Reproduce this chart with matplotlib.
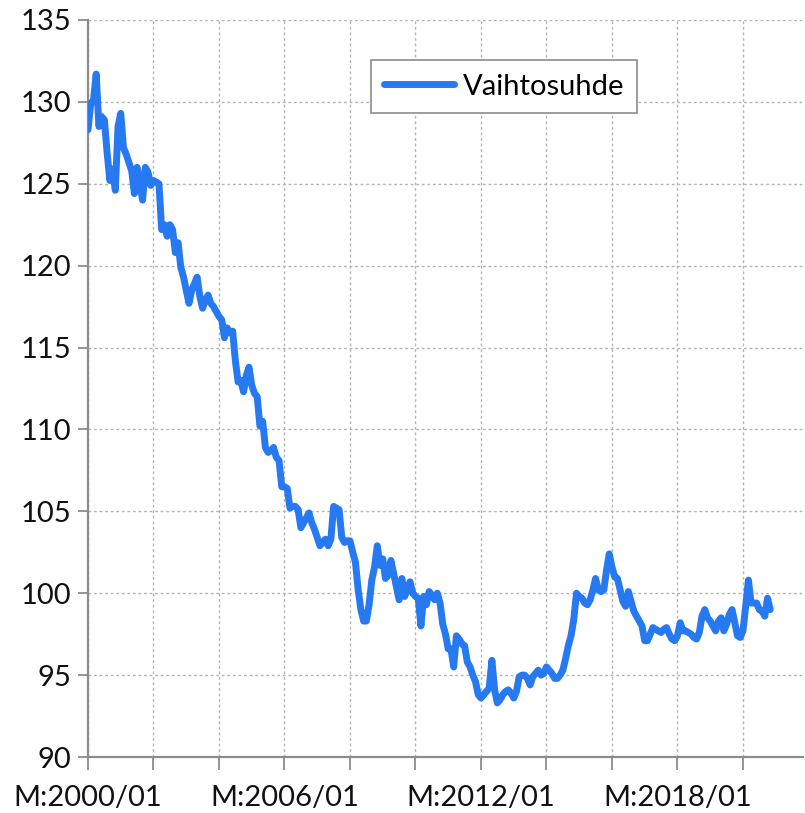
import numpy as np
import matplotlib.pyplot as plt

plt.rcParams['font.family'] = ['Lato', 'DejaVu Sans']

# monthly terms of trade index, starting 2000/01
start_year = 2000
vaihtosuhde = [
    128.3, 129.9, 130.1, 131.7, 128.5, 129.1, 128.9, 126.9, 125.2, 125.9,
    124.6, 128.5, 129.3, 127.2, 126.8, 126.3, 125.8, 124.4, 126.0, 125.0,
    124.0, 126.0, 125.7, 124.9, 125.2, 125.1, 125.0, 122.2, 122.5, 121.8,
    122.5, 122.2, 120.8, 121.4, 119.9, 119.3, 118.5, 117.7, 118.5, 118.9,
    119.3, 118.1, 117.4, 117.9, 118.2, 117.7, 117.5, 117.2, 116.9, 116.7,
    115.6, 116.2, 115.9, 116.0, 114.2, 112.9, 113.0, 112.3, 113.3, 113.8,
    112.7, 112.2, 112.0, 110.2, 110.5, 108.9, 108.6, 108.7, 108.9, 108.3,
    108.1, 106.5, 106.5, 106.4, 105.2, 105.3, 105.3, 105.1, 104.0, 104.3,
    104.6, 104.9, 104.3, 103.9, 103.4, 102.9, 103.1, 103.3, 102.9, 103.3,
    105.3, 105.2, 105.1, 103.4, 103.1, 103.2, 103.2, 102.5, 101.9, 100.2,
    99.0, 98.3, 98.3, 99.3, 100.8, 101.6, 102.9, 101.7, 102.1, 100.9,
    101.1, 102.0, 101.2, 100.4, 99.6, 100.9, 99.8, 100.2, 100.7, 100.0,
    99.8, 99.7, 98.0, 99.8, 99.3, 100.1, 99.9, 99.6, 100.0, 99.4,
    98.1, 97.5, 96.6, 96.6, 95.5, 97.4, 97.2, 96.9, 96.8, 95.8,
    95.5, 95.0, 94.6, 93.8, 93.6, 93.8, 94.0, 94.2, 95.9, 94.1,
    93.3, 93.5, 93.8, 94.0, 94.1, 93.9, 93.6, 94.0, 94.9, 95.0,
    95.0, 94.8, 94.4, 94.9, 95.1, 95.3, 95.0, 95.1, 95.5, 95.3,
    95.1, 94.8, 94.8, 95.0, 95.3, 96.0, 96.8, 97.4, 98.4, 100.0,
    99.8, 99.7, 99.4, 99.3, 99.6, 100.2, 100.9, 100.2, 100.1, 100.2,
    101.4, 102.4, 101.6, 101.0, 100.9, 100.2, 99.5, 99.2, 100.1, 99.5,
    98.9, 98.6, 98.3, 98.0, 97.1, 97.1, 97.5, 97.9, 97.8, 97.7,
    97.6, 97.8, 97.9, 97.5, 97.2, 97.1, 97.4, 98.2, 97.7, 97.7,
    97.6, 97.5, 97.3, 97.2, 97.6, 98.6, 99.0, 98.5, 98.3, 98.0,
    97.7, 98.3, 98.5, 97.7, 98.1, 98.7, 99.0, 98.2, 97.4, 97.3,
    97.7, 99.2, 100.8, 99.4, 99.4, 99.4, 99.0, 98.9, 98.6, 99.7,
    99.0,
]
y_ticks = [90, 95, 100, 105, 110, 115, 120, 125, 130, 135]

months = np.arange(len(vaihtosuhde))
tick_months = np.arange(0, 263, 24)
tick_labels = []
for m in tick_months:
    if m % 72 == 0:
        tick_labels.append('M:%d/%02d' % (start_year + m // 12, m % 12 + 1))
    else:
        tick_labels.append('')

fig = plt.figure(figsize=(8.05, 8.13), dpi=100)
ax = fig.add_axes([88 / 805, 1 - 757 / 813, 715 / 805, 737 / 813])

ax.plot(months, vaihtosuhde, color='#2679F0', lw=5.0, solid_joinstyle='round',
        solid_capstyle='round', label='Vaihtosuhde', zorder=3)

ax.set_xlim(0, 262)
ax.set_ylim(90, 135)
ax.set_yticks(y_ticks)
ax.set_xticks(tick_months)
ax.set_xticklabels(tick_labels)

ax.grid(True, color='#b4b4b4', ls=(0, (2, 2)), lw=1.0)
for s in ['top', 'right']:
    ax.spines[s].set_visible(False)
for s in ['left', 'bottom']:
    ax.spines[s].set_color('#8c8c8c')
    ax.spines[s].set_linewidth(1.6)

ax.tick_params(axis='y', direction='out', length=7, width=1.3, color='#8c8c8c',
               labelsize=21, pad=5, labelcolor='#111111')
ax.tick_params(axis='x', direction='out', length=9, width=1.3, color='#8c8c8c',
               labelsize=21, pad=11, labelcolor='#111111')

leg = ax.legend(loc='upper left', bbox_to_anchor=(0.375, 0.965), fontsize=21,
                fancybox=False, edgecolor='#8c8c8c', framealpha=1,
                handlelength=2.4, handletextpad=0.3, borderpad=0.45)
leg.get_frame().set_linewidth(1.2)

fig.savefig('out.png', dpi=100)
